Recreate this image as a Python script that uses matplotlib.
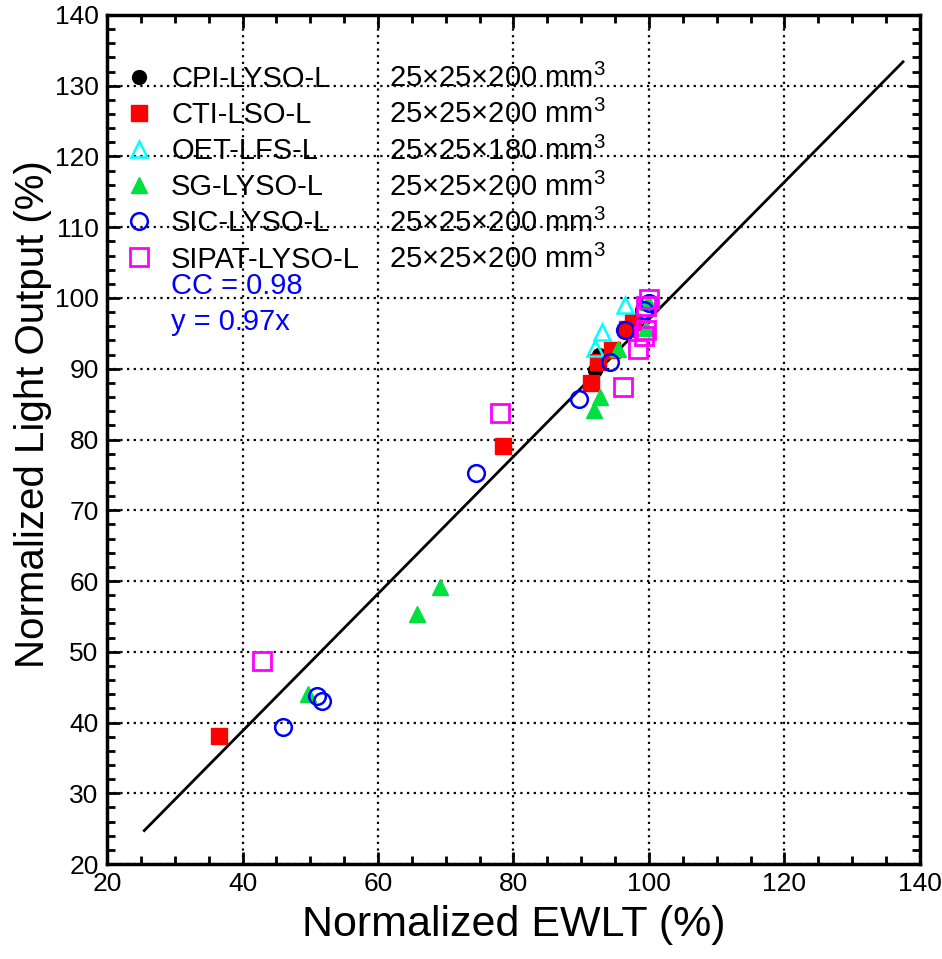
import matplotlib
matplotlib.use("Agg")
import matplotlib.pyplot as plt
import numpy as np
from matplotlib.ticker import MultipleLocator

plt.rcParams['font.family'] = ['Liberation Sans', 'DejaVu Sans']
plt.rcParams['mathtext.fontset'] = 'custom'
plt.rcParams['mathtext.rm'] = 'Liberation Sans'

# series data (x = normalized EWLT %, y = normalized LO %)
cpi_x = [92.0, 92.3, 92.6, 96.4]
cpi_y = [89.8, 91.0, 92.0, 95.6]
cti_x = [36.5, 78.5, 91.5, 92.5, 94.6, 96.8, 97.6]
cti_y = [38.1, 79.1, 88.0, 91.0, 92.7, 95.6, 96.6]
oet_x = [92.1, 93.1, 96.4]
oet_y = [93.0, 95.2, 99.0]
sg_x = [49.6, 65.8, 69.2, 91.9, 92.8, 95.4, 99.6, 99.8]
sg_y = [44.0, 55.3, 59.1, 84.2, 86.0, 92.8, 95.8, 99.4]
sic_x = [46.0, 51.0, 51.7, 74.5, 89.6, 94.3, 96.5, 99.2, 100.0]
sic_y = [39.4, 43.7, 43.0, 75.3, 85.7, 91.0, 95.5, 98.3, 99.3]
sipat_x = [42.9, 78.0, 96.2, 98.4, 99.2, 99.5, 99.6, 100.0]
sipat_y = [48.7, 83.8, 87.4, 92.8, 94.6, 95.5, 98.8, 99.8]

names = ['CPI-LYSO-L', 'CTI-LSO-L', 'OET-LFS-L', 'SG-LYSO-L', 'SIC-LYSO-L', 'SIPAT-LYSO-L']
dims = ['25\u00d725\u00d7200 mm$^3$', '25\u00d725\u00d7200 mm$^3$', '25\u00d725\u00d7180 mm$^3$',
        '25\u00d725\u00d7200 mm$^3$', '25\u00d725\u00d7200 mm$^3$', '25\u00d725\u00d7200 mm$^3$']

slope = 0.97
cc = 0.98
fit_x = [25.5, 137.5]

fig = plt.figure(figsize=(9.42, 9.59), dpi=100)
ax = fig.add_axes([0.1136, 0.099, 0.863, 0.8854])

ms = 11
ax.plot(cpi_x, cpi_y, 'o', color='black', ms=ms - 1, label=names[0], zorder=3)
ax.plot(cti_x, cti_y, 's', color='red', ms=ms, label=names[1], zorder=3)
ax.plot(oet_x, oet_y, '^', mfc='none', mec='cyan', mew=1.8, ms=ms + 1, label=names[2], zorder=3)
ax.plot(sg_x, sg_y, '^', color='#00e040', ms=ms, label=names[3], zorder=3)
ax.plot(sic_x, sic_y, 'o', mfc='none', mec='blue', mew=1.8, ms=ms + 1, label=names[4], zorder=3)
ax.plot(sipat_x, sipat_y, 's', mfc='none', mec='magenta', mew=2.0, ms=ms + 2, label=names[5], zorder=3)

fx = np.array(fit_x)
ax.plot(fx, slope * fx, color='black', lw=2, zorder=2)

ax.set_xlim(20, 140)
ax.set_ylim(20, 140)
ax.xaxis.set_major_locator(MultipleLocator(20))
ax.xaxis.set_minor_locator(MultipleLocator(5))
ax.yaxis.set_major_locator(MultipleLocator(10))
ax.yaxis.set_minor_locator(MultipleLocator(2))
ax.tick_params(which='both', direction='in', top=True, right=True, width=2)
ax.tick_params(which='major', length=9, labelsize=19, pad=6)
ax.tick_params(which='minor', length=6)
for s in ax.spines.values():
    s.set_linewidth(2.5)
ax.grid(True, which='major', color='black', linestyle=(0, (1, 2)), linewidth=1.6)

ax.set_xlabel('Normalized EWLT (%)', fontsize=31, labelpad=6)
ax.set_ylabel('Normalized Light Output (%)', fontsize=29)
ax.yaxis.set_label_coords(-0.068, 0.53)

leg = ax.legend(loc='upper left', bbox_to_anchor=(0.0, 0.962), frameon=False, fontsize=21,
                handlelength=1.0, handletextpad=0.6, labelspacing=0.28, borderpad=0.2,
                borderaxespad=0.4)

# second column with the crystal dimensions, aligned to the legend rows
fig.canvas.draw()
inv = ax.transAxes.inverted()
for t, d in zip(leg.get_texts(), dims):
    bb = t.get_window_extent()
    _, yb = inv.transform((0, (bb.y0 + bb.y1) / 2))
    ax.text(0.347, yb, d, transform=ax.transAxes, fontsize=21, va='center', ha='left')

last = leg.get_texts()[-1].get_window_extent()
x0, y0 = inv.transform((last.x0, last.y0))
ax.text(x0, y0 + 0.002, 'CC = %.2f' % cc, transform=ax.transAxes, color='blue', fontsize=21, va='top')
ax.text(x0, y0 - 0.041, 'y = %.2fx' % slope, transform=ax.transAxes, color='blue', fontsize=21, va='top')

fig.savefig('out.png', dpi=100)
